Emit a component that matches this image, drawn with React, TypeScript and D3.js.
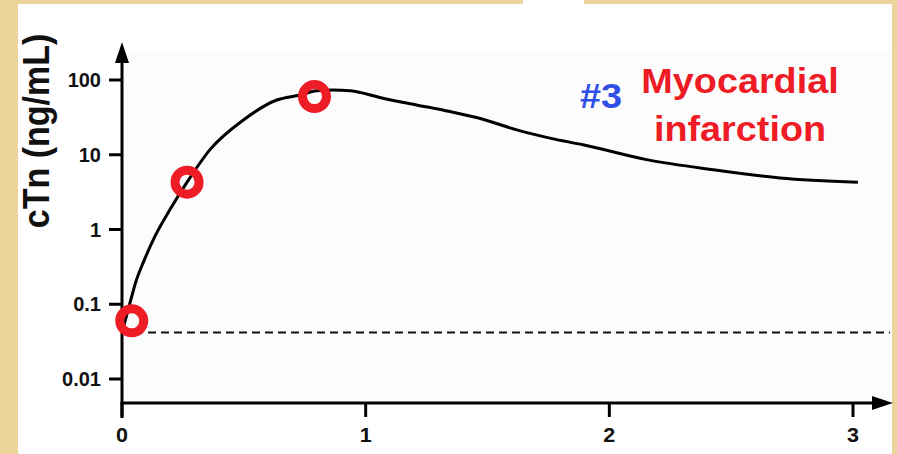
import React from "react";
import * as d3 from "d3";

const W = 897;
const H = 454;

// curve samples (days, cTn ng/mL)
const curveDays = [0, 0.033, 0.06, 0.087, 0.135, 0.197, 0.267, 0.361, 0.497, 0.635, 0.73, 0.799, 0.866, 0.936, 1.004, 1.071, 1.209, 1.346, 1.481, 1.62, 1.756, 1.892, 2.153, 2.425, 2.7, 3.02];
const curveValues = [0.042, 0.105, 0.215, 0.36, 0.81, 1.85, 4.3, 11.7, 29, 54, 63, 72, 73.6, 72, 65, 57, 46.4, 37.8, 29.9, 21.5, 16.7, 13.6, 8.6, 6.3, 4.9, 4.3];

// measured samples (red circles)
const sampleDays = [0.04, 0.267, 0.79];
const sampleValues = [0.06, 4.3, 60];

// cutoff (dashed line)
const cutoffValue = 0.042;

const yTicks = [100, 10, 1, 0.1, 0.01];
const yTickLabels = ["100", "10", "1", "0.1", "0.01"];
const xTicks = [0, 1, 2, 3];
const xTickLabels = ["0", "1", "2", "3"];

const yLabel = "cTn (ng/mL)";
const titleNum = "#3";
const titleLine1 = "Myocardial";
const titleLine2 = "infarction";

const BEIGE = "#ecd49a";
const RED = "#ee1c25";
const BLUE = "#2f4fe6";

export default function App() {
  const x = d3.scaleLinear().domain([0, 3]).range([122, 853]);
  const y = d3.scaleLog().domain([0.01, 100]).range([379, 80]);

  const axisX0 = 122;
  const axisY0 = 403;
  const xArrowTip = 893;
  const yArrowTip = 42;

  const pts: [number, number][] = curveDays.map((d, i) => [d, curveValues[i]]);
  const line = d3
    .line<[number, number]>()
    .x((d) => x(d[0]))
    .y((d) => y(d[1]))
    .curve(d3.curveMonotoneX);

  const font = "'Liberation Sans', Arial, sans-serif";

  return (
    <svg
      width={W}
      height={H}
      style={{ position: "absolute", left: 0, top: 0, background: "#ffffff" }}
      fontFamily={font}
    >
      <rect x={0} y={0} width={W} height={H} fill="#ffffff" />
      {/* plot area faint fill */}
      <rect x={124} y={50} width={766} height={352} fill="#fcfcfd" />

      {/* beige frame */}
      <rect x={0} y={0} width={18} height={H} fill={BEIGE} />
      <rect x={0} y={0} width={523} height={4} fill={BEIGE} />
      <rect x={584} y={0} width={W - 584} height={4} fill={BEIGE} />
      <rect x={892} y={0} width={5} height={H} fill={BEIGE} />

      {/* dashed cutoff */}
      <line
        x1={axisX0}
        x2={890}
        y1={y(cutoffValue)}
        y2={y(cutoffValue)}
        stroke="#111"
        strokeWidth={2}
        strokeDasharray="8,5"
      />

      {/* axes */}
      <line x1={axisX0} x2={axisX0} y1={418} y2={yArrowTip + 10} stroke="#000" strokeWidth={3} />
      <path
        d={`M${axisX0},${yArrowTip} L${axisX0 - 7},${yArrowTip + 21} L${axisX0 + 7},${yArrowTip + 21} Z`}
        fill="#000"
      />
      <line x1={axisX0 - 1.5} x2={xArrowTip - 10} y1={axisY0} y2={axisY0} stroke="#000" strokeWidth={3} />
      <path
        d={`M${xArrowTip},${axisY0} L${xArrowTip - 21},${axisY0 - 7} L${xArrowTip - 21},${axisY0 + 7} Z`}
        fill="#000"
      />

      {/* y ticks */}
      {yTicks.map((t, i) => (
        <g key={"yt" + i}>
          <line x1={109} x2={axisX0} y1={y(t)} y2={y(t)} stroke="#000" strokeWidth={3} />
          <text
            x={101}
            y={y(t)}
            textAnchor="end"
            dominantBaseline="central"
            fontSize={20}
            fontWeight="bold"
            fill="#111"
          >
            {yTickLabels[i]}
          </text>
        </g>
      ))}

      {/* x ticks */}
      {xTicks.map((t, i) => (
        <g key={"xt" + i}>
          <line x1={x(t)} x2={x(t)} y1={axisY0} y2={417} stroke="#000" strokeWidth={3} />
          <text
            transform={`translate(${x(t)},442) scale(1.05,1)`}
            textAnchor="middle"
            fontSize={20.5}
            fontWeight="bold"
            fill="#111"
          >
            {xTickLabels[i]}
          </text>
        </g>
      ))}

      {/* y label */}
      <text
        transform={`translate(49,131) scale(1.08,1) rotate(-90)`}
        textAnchor="middle"
        fontSize={34}
        fontWeight="bold"
        fill="#111"
      >
        {yLabel}
      </text>

      {/* curve */}
      <path d={line(pts) || ""} fill="none" stroke="#000" strokeWidth={3} />

      {/* measured samples */}
      {sampleDays.map((d, i) => (
        <circle
          key={"s" + i}
          cx={x(d)}
          cy={y(sampleValues[i])}
          r={12}
          fill="none"
          stroke={RED}
          strokeWidth={9}
        />
      ))}

      {/* title */}
      <text
        transform="translate(580,108) scale(1.08,1)"
        fontSize={35}
        fontWeight="bold"
        fill={BLUE}
      >
        {titleNum}
      </text>
      <text
        transform="translate(740,93) scale(1.08,1)"
        textAnchor="middle"
        fontSize={35}
        fontWeight="bold"
        fill={RED}
      >
        {titleLine1}
      </text>
      <text
        transform="translate(740,140.5) scale(1.08,1)"
        textAnchor="middle"
        fontSize={35}
        fontWeight="bold"
        fill={RED}
      >
        {titleLine2}
      </text>
    </svg>
  );
}
